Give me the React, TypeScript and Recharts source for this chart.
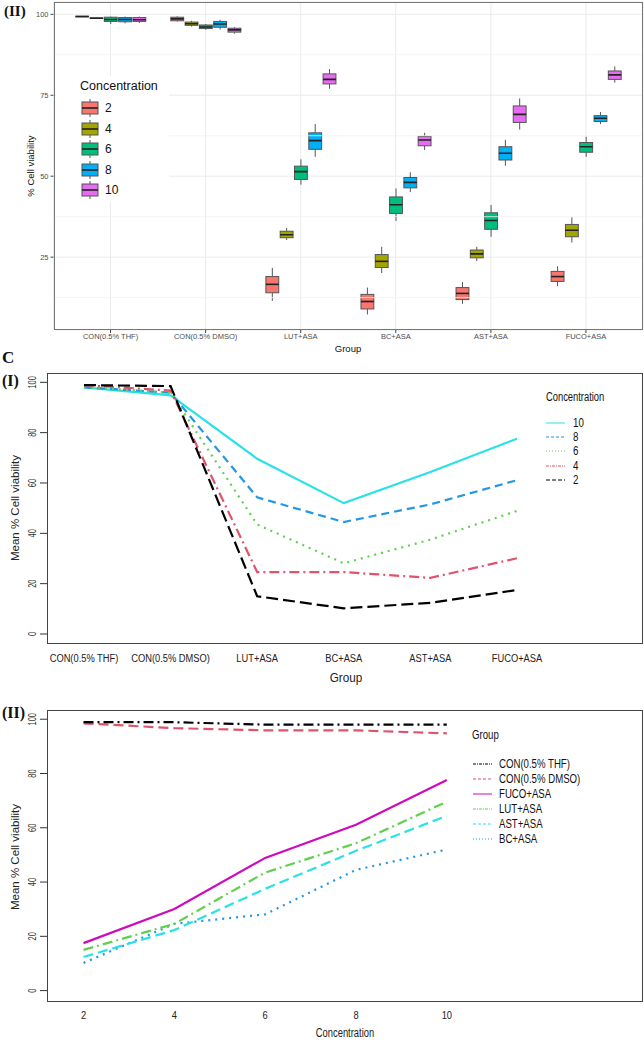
import React from 'react';
import { BarChart, Bar, XAxis, YAxis, CartesianGrid, ReferenceLine, LineChart, Line } from 'recharts';

const SANS = '"Liberation Sans", Arial, sans-serif';
const SERIF = '"Liberation Serif", "Times New Roman", serif';
const NARROW_SCALE = 0.81;

// ---------- data ----------
const groups = ['CON(0.5% THF)', 'CON(0.5% DMSO)', 'LUT+ASA', 'BC+ASA', 'AST+ASA', 'FUCO+ASA'];
const concentrations = [2, 4, 6, 8, 10];

// box stats per concentration: [min, q1, median, q3, max] for each group
const box2 = [
  [99.1, 99.2, 99.3, 99.4, 99.5],
  [97.8, 98.0, 98.6, 99.1, 99.4],
  [11.5, 14.0, 16.6, 19.0, 21.7],
  [7.3, 9.0, 11.3, 13.5, 15.6],
  [10.6, 11.9, 13.8, 15.6, 17.3],
  [16.0, 17.5, 19.0, 20.6, 22.2],
];
const box4 = [
  [98.6, 98.7, 98.8, 98.9, 99.0],
  [96.2, 96.6, 97.1, 97.6, 98.0],
  [30.3, 31.0, 31.9, 33.0, 34.0],
  [20.1, 21.8, 23.7, 25.8, 28.2],
  [23.8, 24.8, 26.0, 27.2, 28.2],
  [29.5, 31.3, 33.3, 35.1, 37.3],
];
const box6 = [
  [97.0, 97.8, 98.4, 99.1, 99.3],
  [95.2, 95.6, 96.1, 96.7, 97.0],
  [47.4, 49.0, 51.4, 53.1, 55.2],
  [36.2, 38.5, 41.2, 43.6, 46.2],
  [31.3, 33.6, 36.3, 38.7, 41.1],
  [56.0, 57.4, 59.1, 60.4, 62.2],
];
const box8 = [
  [97.2, 97.7, 98.4, 99.0, 99.3],
  [95.3, 96.0, 97.0, 97.8, 98.3],
  [56.0, 58.3, 61.0, 63.4, 66.1],
  [45.1, 46.4, 48.1, 49.6, 51.2],
  [53.2, 55.0, 57.1, 59.1, 61.2],
  [66.1, 66.9, 67.9, 68.7, 69.8],
];
const box10 = [
  [97.3, 97.8, 98.3, 99.0, 99.3],
  [94.0, 94.5, 95.2, 95.7, 96.0],
  [77.0, 78.5, 79.9, 81.6, 83.1],
  [58.1, 59.4, 61.2, 62.3, 63.4],
  [64.4, 66.6, 69.1, 71.7, 74.0],
  [78.9, 79.9, 81.3, 82.5, 83.9],
];
const boxStats = [box2, box4, box6, box8, box10];
const boxColors = ['#F8766D', '#A3A500', '#00BF7D', '#00B0F6', '#E76BF3'];
const boxTicks = [25, 50, 75, 100];
const boxMinorTicks = [12.5, 37.5, 62.5, 87.5];

// mean % viability per group across concentrations 2,4,6,8,10
const meanTHF = [98.9, 98.9, 98.0, 98.0, 98.0];
const meanDMSO = [98.5, 96.7, 95.9, 95.9, 94.8];
const meanLUT = [15.0, 24.6, 43.5, 54.3, 69.6];
const meanBC = [10.2, 24.6, 28.1, 44.5, 52.0];
const meanAST = [12.4, 22.3, 37.5, 51.5, 64.4];
const meanFUCO = [17.5, 30.1, 48.9, 61.1, 77.6];
const means = [meanTHF, meanDMSO, meanLUT, meanBC, meanAST, meanFUCO];
const lineTicks = [0, 20, 40, 60, 80, 100];

// panel C(I) styles: one line per concentration (legend order 10..2)
const concLegendOrder = [10, 8, 6, 4, 2];
const concStyle: Record<number, { color: string; dash: string; legendDash: string }> = {
  10: { color: '#28E2E5', dash: '', legendDash: '' },
  8: { color: '#2297E6', dash: '8 5', legendDash: '3 2' },
  6: { color: '#61D04F', dash: '2 5', legendDash: '1 2' },
  4: { color: '#DF536B', dash: '10 4 2 4', legendDash: '3 1 1 1' },
  2: { color: '#000000', dash: '12 5', legendDash: '4 2' },
};

// panel C(II) styles: one line per group
const groupKeys = ['THF', 'DMSO', 'LUT', 'BC', 'AST', 'FUCO'];
const groupLegendOrder = [0, 1, 5, 2, 4, 3];
const groupStyle = [
  { color: '#000000', dash: '10 4 2 4', legendDash: '3 1 1 1' },
  { color: '#DF536B', dash: '10 5', legendDash: '3 2' },
  { color: '#61D04F', dash: '10 4 2 4', legendDash: '3 1 1 1' },
  { color: '#2297E6', dash: '2 5', legendDash: '1 2' },
  { color: '#28E2E5', dash: '10 5', legendDash: '3 2' },
  { color: '#CD0BBC', dash: '', legendDash: '' },
];

// ---------- tables ----------
const boxRows = groups.map((g, gi) => {
  const row: any = { group: g };
  concentrations.forEach((c, ci) => {
    const s = boxStats[ci][gi];
    row['r' + c] = [s[0], s[4]];
    row['s' + c] = s;
  });
  return row;
});

const groupRows = groups.map((g, gi) => {
  const row: any = { gx: gi + 1 };
  concentrations.forEach((c, ci) => {
    row['c' + c] = means[gi][ci];
  });
  return row;
});

const concRows = concentrations.map((c, ci) => {
  const row: any = { conc: c };
  groupKeys.forEach((k, gi) => {
    row[k] = means[gi][ci];
  });
  return row;
});

// ---------- helpers ----------
const BoxShape = (props: any) => {
  const { x, y, width, height, fill, stats } = props;
  if (!stats) return null;
  const [mn, q1, md, q3, mx] = stats;
  const top = Math.min(y, y + height);
  const h = Math.abs(height);
  const py = (v: number) => (mx === mn ? top : top + (h * (mx - v)) / (mx - mn));
  const w = width * 0.9;
  const bx = x + (width - w) / 2;
  const cx = x + width / 2;
  return (
    <g>
      <line x1={cx} x2={cx} y1={py(mx)} y2={py(q3)} stroke="#555" strokeWidth={1} />
      <line x1={cx} x2={cx} y1={py(q1)} y2={py(mn)} stroke="#555" strokeWidth={1} />
      <rect x={bx} y={py(q3)} width={w} height={Math.max(py(q1) - py(q3), 0.5)} fill={fill} stroke="#555" strokeWidth={1} />
      <line x1={bx} x2={bx + w} y1={py(md)} y2={py(md)} stroke="#222" strokeWidth={1.6} />
    </g>
  );
};

const RotTick = (props: any) => {
  const { x, y, payload } = props;
  const tx = x - 4;
  return (
    <text
      transform={`translate(${tx}, ${y}) rotate(-90) scale(0.75, 1)`}
      x={0}
      y={0}
      textAnchor="middle"
      fontSize={10}
      fontFamily={SANS}
      fill="#333"
    >
      {payload.value}
    </text>
  );
};

const NarrowXTick = (props: any) => {
  const { x, y, payload, labels } = props;
  const label = labels ? labels[payload.value - 1] : payload.value;
  return (
    <text
      transform={`translate(${x}, ${y}) scale(${NARROW_SCALE}, 1)`}
      x={0}
      y={0}
      dy="0.71em"
      textAnchor="middle"
      fontSize={11.5}
      fontFamily={SANS}
      fill="#222"
    >
      {label}
    </text>
  );
};

const Txt = ({ x, y, size, children, family = SANS, rotate = false, anchor = 'center', weight = 'normal', color = '#111', sx = 1 }: any) => (
  <div
    style={{
      position: 'absolute',
      left: x,
      top: y,
      transformOrigin: anchor === 'left' ? 'left center' : 'center center',
      transform: `translate(${anchor === 'left' ? '0' : '-50%'}, -50%)${rotate ? ' rotate(-90deg)' : ''}${sx !== 1 ? ` scaleX(${sx})` : ''}`,
      fontSize: size,
      fontFamily: family,
      fontWeight: weight,
      color,
      whiteSpace: 'nowrap',
      lineHeight: 1,
    }}
  >
    {children}
  </div>
);

const Frame = ({ x, y, w, h, color, width }: any) => (
  <div
    style={{
      position: 'absolute',
      left: x,
      top: y,
      width: w,
      height: h,
      border: `${width}px solid ${color}`,
      boxSizing: 'border-box',
      pointerEvents: 'none',
    }}
  />
);

// ---------- panels ----------
const BoxPanel = () => (
  <div style={{ position: 'absolute', left: 0, top: 0, width: 644, height: 355 }}>
    <BarChart width={644} height={355} data={boxRows} margin={{ top: 2, right: 1, bottom: 0, left: 0 }} barSize={14.3} barGap={0}>
      <CartesianGrid stroke="#ebebeb" strokeWidth={1} />
      {boxMinorTicks.map((v) => (
        <ReferenceLine key={v} y={v} stroke="#f1f1f1" strokeWidth={0.8} />
      ))}
      <XAxis
        dataKey="group"
        type="category"
        interval={0}
        padding={{ left: 9.5, right: 9.5 }}
        height={25}
        tickSize={3}
        tickMargin={0.5}
        axisLine={false}
        tickLine={{ stroke: '#444' }}
        tick={{ fontSize: 7.5, fill: '#4d4d4d', fontFamily: SANS }}
      />
      <YAxis
        type="number"
        domain={[2.5, 103.8]}
        allowDataOverflow
        ticks={boxTicks}
        width={53.5}
        tickSize={3}
        tickMargin={2}
        axisLine={false}
        tickLine={{ stroke: '#444' }}
        tick={{ fontSize: 7.5, fill: '#4d4d4d', fontFamily: SANS }}
      />
      {concentrations.map((c, i) => (
        <Bar
          key={c}
          dataKey={'r' + c}
          fill={boxColors[i]}
          isAnimationActive={false}
          shape={(p: any) => <BoxShape {...p} fill={boxColors[i]} stats={p.payload['s' + c]} />}
        />
      ))}
    </BarChart>
    <Frame x={53.5} y={2} w={589.5} h={328} color="#777" width={1} />
    {/* legend */}
    <div style={{ position: 'absolute', left: 56, top: 76, width: 113, height: 126, background: '#fff' }} />
    <Txt x={80} y={86} size={12.5} anchor="left">Concentration</Txt>
    {concentrations.map((c, i) => {
      const cy = 108 + i * 20.5;
      return (
        <React.Fragment key={c}>
          <svg style={{ position: 'absolute', left: 80, top: cy - 10 }} width={20} height={20}>
            <line x1={10} x2={10} y1={1} y2={19} stroke="#555" strokeWidth={1} />
            <rect x={2} y={4} width={16} height={12} fill={boxColors[i]} stroke="#555" strokeWidth={1} />
            <line x1={2} x2={18} y1={10} y2={10} stroke="#222" strokeWidth={1.6} />
          </svg>
          <Txt x={105} y={cy} size={12} anchor="left">{c}</Txt>
        </React.Fragment>
      );
    })}
    <Txt x={31} y={166} size={9.5} rotate>% Cell viability</Txt>
    <Txt x={348} y={349} size={9.5}>Group</Txt>
    <Txt x={4} y={11} size={15} family={SERIF} weight="bold" anchor="left">(II)</Txt>
  </div>
);

const GroupPanel = () => (
  <div style={{ position: 'absolute', left: 0, top: 340, width: 644, height: 350 }}>
    <LineChart width={644} height={350} data={groupRows} margin={{ top: 33, right: 1, bottom: 0, left: 0 }}>
      <XAxis
        dataKey="gx"
        type="number"
        domain={[0.573, 7.455]}
        allowDataOverflow
        ticks={[1, 2, 3, 4, 5, 6]}
        interval={0}
        height={46}
        tickSize={0}
        tickMargin={9.5}
        axisLine={false}
        tickLine={false}
        tick={<NarrowXTick labels={groups} />}
      />
      <YAxis
        type="number"
        domain={[-3.97, 103.7]}
        allowDataOverflow
        ticks={lineTicks}
        width={47}
        tickSize={7}
        tickMargin={0}
        axisLine={false}
        tickLine={{ stroke: '#333' }}
        tick={<RotTick />}
      />
      {concLegendOrder.map((c) => (
        <Line
          key={c}
          dataKey={'c' + c}
          type="linear"
          stroke={concStyle[c].color}
          strokeWidth={2.2}
          strokeDasharray={concStyle[c].dash || undefined}
          dot={false}
          isAnimationActive={false}
        />
      ))}
    </LineChart>
    <Frame x={47} y={33} w={596} h={271} color="#444" width={1.4} />
    <Txt x={546} y={57} size={12} anchor="left" sx={0.78}>Concentration</Txt>
    {concLegendOrder.map((c, i) => {
      const cy = 83 + i * 14.2;
      return (
        <React.Fragment key={c}>
          <svg style={{ position: 'absolute', left: 546, top: cy - 3 }} width={19} height={6}>
            <line x1={0} x2={19} y1={3} y2={3} stroke={concStyle[c].color} strokeWidth={1} strokeDasharray={concStyle[c].legendDash || undefined} />
          </svg>
          <Txt x={573} y={cy} size={12.5} anchor="left" sx={0.78}>{c}</Txt>
        </React.Fragment>
      );
    })}
    <Txt x={16} y={168} size={11.5} rotate color="#222">Mean % Cell viability</Txt>
    <Txt x={346} y={337} size={13} color="#222" sx={0.9}>Group</Txt>
    <Txt x={2} y={17} size={17} family={SERIF} weight="bold" anchor="left">C</Txt>
    <Txt x={2} y={41} size={16} family={SERIF} weight="bold" anchor="left">(I)</Txt>
  </div>
);

const ConcPanel = () => (
  <div style={{ position: 'absolute', left: 0, top: 690, width: 644, height: 350 }}>
    <LineChart width={644} height={350} data={concRows} margin={{ top: 20, right: 1, bottom: 0, left: 0 }}>
      <XAxis
        dataKey="conc"
        type="number"
        domain={[1.196, 14.32]}
        allowDataOverflow
        ticks={concentrations}
        interval={0}
        height={38}
        tickSize={0}
        tickMargin={8.5}
        axisLine={false}
        tickLine={false}
        tick={<NarrowXTick />}
      />
      <YAxis
        type="number"
        domain={[-4.2, 103.4]}
        allowDataOverflow
        ticks={lineTicks}
        width={47}
        tickSize={7}
        tickMargin={0}
        axisLine={false}
        tickLine={{ stroke: '#333' }}
        tick={<RotTick />}
      />
      {[3, 4, 2, 5, 1, 0].map((gi) => (
        <Line
          key={groupKeys[gi]}
          dataKey={groupKeys[gi]}
          type="linear"
          stroke={groupStyle[gi].color}
          strokeWidth={2.2}
          strokeDasharray={groupStyle[gi].dash || undefined}
          dot={false}
          isAnimationActive={false}
        />
      ))}
    </LineChart>
    <Frame x={47} y={20} w={596} h={292} color="#444" width={1.4} />
    <Txt x={472} y={45} size={12.5} anchor="left" sx={0.77}>Group</Txt>
    {groupLegendOrder.map((gi, i) => {
      const cy = 73.5 + i * 15;
      return (
        <React.Fragment key={gi}>
          <svg style={{ position: 'absolute', left: 473, top: cy - 3 }} width={19} height={6}>
            <line x1={0} x2={19} y1={3} y2={3} stroke={groupStyle[gi].color} strokeWidth={1} strokeDasharray={groupStyle[gi].legendDash || undefined} />
          </svg>
          <Txt x={499} y={cy} size={12.5} anchor="left" sx={0.77}>{groups[gi]}</Txt>
        </React.Fragment>
      );
    })}
    <Txt x={16} y={167} size={11.5} rotate color="#222">Mean % Cell viability</Txt>
    <Txt x={345} y={343} size={12} color="#222" sx={0.78}>Concentration</Txt>
    <Txt x={2} y={23} size={16} family={SERIF} weight="bold" anchor="left">(II)</Txt>
  </div>
);

export default function App() {
  return (
    <div style={{ position: 'absolute', left: 0, top: 0, width: 644, height: 1040, background: '#fff', overflow: 'hidden' }}>
      <BoxPanel />
      <GroupPanel />
      <ConcPanel />
    </div>
  );
}
